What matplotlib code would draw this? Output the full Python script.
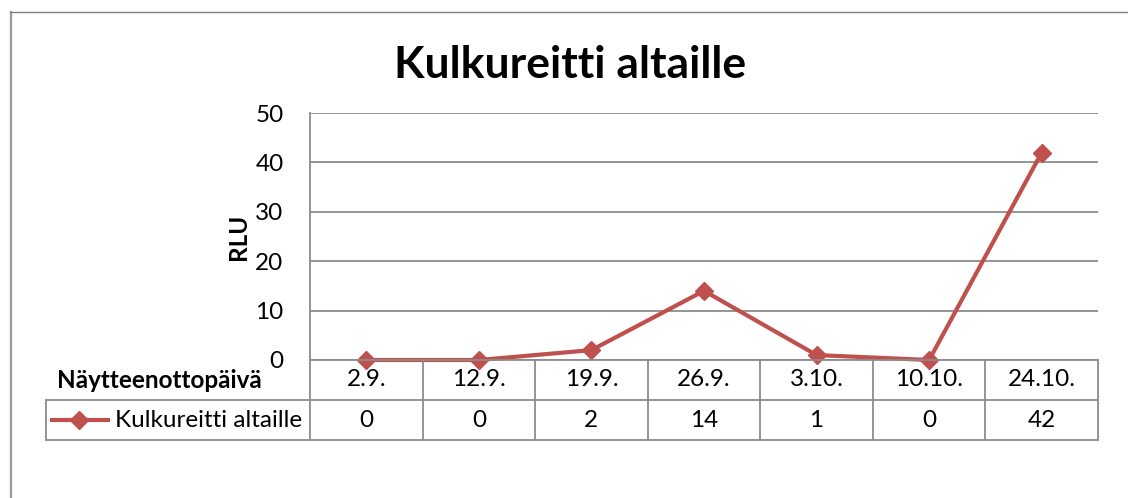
import matplotlib.pyplot as plt
from matplotlib.lines import Line2D

plt.rcParams['font.family'] = ['Lato', 'DejaVu Sans']

dates = ['2.9.', '12.9.', '19.9.', '26.9.', '3.10.', '10.10.', '24.10.']
values = [0, 0, 2, 14, 1, 0, 42]
series_name = 'Kulkureitti altaille'
title = 'Kulkureitti altaille'
y_ticks = [0, 10, 20, 30, 40, 50]

red = '#C0504D'
grid = '#8c8c8c'
fs = 17.5

W, H = 1128, 498
fig = plt.figure(figsize=(W / 100, H / 100), dpi=100)

# outer chart frame (only left and top edges fall inside the picture)
fig.add_artist(Line2D([10.5 / W, 10.5 / W], [0, (H - 12) / H], transform=fig.transFigure,
                      color='#9a9a9a', lw=1.6))
fig.add_artist(Line2D([10 / W, 1], [(H - 12) / H, (H - 12) / H], transform=fig.transFigure,
                      color='#808080', lw=1))

# plot area
x0, x1 = 310, 1098
ytop, ybot = 113, 360
ax = fig.add_axes([x0 / W, (H - ybot) / H, (x1 - x0) / W, (ybot - ytop) / H])
xs = list(range(len(dates)))
ax.plot(xs, values, color=red, lw=3, marker='D', ms=9, clip_on=False, zorder=5)
ax.set_xlim(-0.5, len(dates) - 0.5)
ax.set_ylim(0, 50)
ax.set_yticks(y_ticks)
ax.set_yticklabels([str(v) for v in y_ticks], fontsize=fs)
ax.tick_params(axis='y', length=0, pad=19)
ax.set_xticks([])
for y in y_ticks:
    ax.axhline(y, color=grid, lw=1.3, zorder=1)
for s in ['top', 'right', 'bottom']:
    ax.spines[s].set_visible(False)
ax.spines['left'].set_color(grid)
ax.spines['left'].set_linewidth(1.3)
ax.set_ylabel('RLU', fontsize=fs, fontweight='bold', labelpad=4)

fig.text(570 / W, (H - 65) / H, title, fontsize=32, fontweight='bold',
         ha='center', va='center')

# data table below the plot
tb = fig.add_axes([x0 / W, (H - 440) / H, (x1 - x0) / W, 80 / H], sharex=ax)
tb.set_ylim(0, 2)
tb.axis('off')
col_w = (x1 - x0) / len(dates)
left_edge = -0.5 - (x0 - 46) / col_w
right_edge = len(dates) - 0.5
for i in range(len(dates) + 1):
    tb.plot([i - 0.5, i - 0.5], [0, 2], color=grid, lw=1.3, clip_on=False)
tb.plot([-0.5, right_edge], [2, 2], color=grid, lw=1.3, clip_on=False)
tb.plot([left_edge, right_edge], [1, 1], color=grid, lw=1.3, clip_on=False)
tb.plot([left_edge, right_edge], [0, 0], color=grid, lw=1.3, clip_on=False)
tb.plot([left_edge, left_edge], [0, 1], color=grid, lw=1.3, clip_on=False)
for i, (d, v) in enumerate(zip(dates, values)):
    tb.text(i, 1.5, d, ha='center', va='center', fontsize=fs)
    tb.text(i, 0.5, str(v), ha='center', va='center', fontsize=fs)
tb.text(-0.5 - 48 / col_w, 1.5, 'Näytteenottopäivä', ha='right', va='center',
        fontsize=fs, fontweight='bold')
tb.text(-0.5 - 8 / col_w, 0.5, series_name, ha='right', va='center', fontsize=fs)
tb.add_line(Line2D([left_edge + 6 / col_w, left_edge + 62 / col_w], [0.5, 0.5],
                   color=red, lw=3, clip_on=False))
tb.plot([left_edge + 33 / col_w], [0.5], marker='D', color=red, ms=9, clip_on=False)

fig.savefig('out.png', dpi=100)
